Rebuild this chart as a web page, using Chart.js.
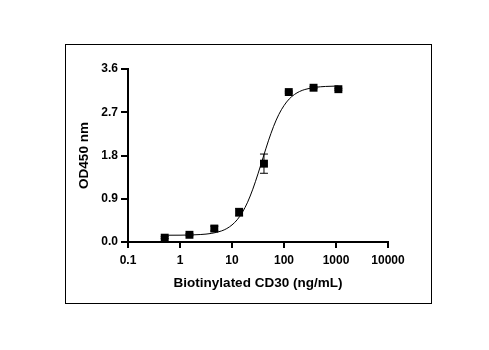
<!DOCTYPE html>
<html>
<head>
<meta charset="utf-8">
<script src="https://cdn.jsdelivr.net/npm/chart.js@4/dist/chart.umd.min.js"></script>
<style>
  html, body { margin: 0; padding: 0; background: #fff; }
  #wrap { position: relative; width: 489px; height: 350px; }
  #frame { position: absolute; left: 65px; top: 44px; width: 367px; height: 260px; box-sizing: border-box; border: 1px solid #000; pointer-events: none; }
  canvas { position: absolute; left: 0; top: 0; }
</style>
</head>
<body>
<div id="wrap">
  <canvas id="c" width="489" height="350"></canvas>
  <div id="frame"></div>
</div>
<script>
// Measured points
const concentrations = [0.508, 1.52, 4.57, 13.7, 41.2, 123.5, 370, 1111];
const odValues       = [0.09, 0.15, 0.28, 0.62, 1.63, 3.12, 3.21, 3.18];
const odErrors       = [0.02, 0.02, 0.05, 0.08, 0.20, 0.02, 0.02, 0.02];

// Fitted curve
const curveX = [0.508, 1, 1.585, 2.512, 3.981, 6.31, 7.943, 10, 12.59, 15.85, 19.95, 25.12, 31.62, 39.81, 50.12, 63.1, 79.43, 100, 125.9, 158.5, 199.5, 251.2, 398.1, 631, 1111];
const curveY = [0.141, 0.142, 0.146, 0.156, 0.178, 0.231, 0.280, 0.355, 0.463, 0.618, 0.828, 1.099, 1.419, 1.765, 2.105, 2.407, 2.653, 2.839, 2.976, 3.069, 3.132, 3.173, 3.218, 3.237, 3.246];

// Tick labels
const xTicks = [0.1, 1, 10, 100, 1000, 10000];
const xTickLabels = ['0.1', '1', '10', '100', '1000', '10000'];
const yTicks = [0, 0.9, 1.8, 2.7, 3.6];

const pointData = concentrations.map((x, i) => ({ x: x, y: odValues[i] }));
const curveData = curveX.map((x, i) => ({ x: x, y: curveY[i] }));

const FONT = "'Liberation Sans', Arial, sans-serif";

const errorBars = {
  id: 'errorBars',
  beforeDatasetsDraw(chart) {
    const ctx = chart.ctx;
    const xs = chart.scales.x, ys = chart.scales.y;
    ctx.save();
    ctx.strokeStyle = '#000';
    ctx.lineWidth = 1;
    concentrations.forEach((c, i) => {
      const px = xs.getPixelForValue(c);
      const top = ys.getPixelForValue(odValues[i] + odErrors[i]);
      const bot = ys.getPixelForValue(odValues[i] - odErrors[i]);
      const cap = 4;
      ctx.beginPath();
      ctx.moveTo(px, top); ctx.lineTo(px, bot);
      ctx.moveTo(px - cap, top); ctx.lineTo(px + cap, top);
      ctx.moveTo(px - cap, bot); ctx.lineTo(px + cap, bot);
      ctx.stroke();
    });
    ctx.restore();
  }
};

new Chart(document.getElementById('c'), {
  type: 'scatter',
  data: {
    datasets: [
      {
        label: 'fit',
        data: curveData,
        showLine: true,
        borderColor: '#000',
        borderWidth: 1,
        pointRadius: 0,
        cubicInterpolationMode: 'monotone',
        fill: false,
        order: 2
      },
      {
        label: 'OD450',
        data: pointData,
        pointStyle: 'rect',
        pointRadius: 5.6,
        backgroundColor: '#000',
        borderColor: '#000',
        borderWidth: 0,
        showLine: false,
        order: 1
      }
    ]
  },
  options: {
    responsive: false,
    animation: false,
    devicePixelRatio: 1,
    layout: { padding: { left: 68, top: 69, right: 101, bottom: 48 } },
    plugins: { legend: { display: false }, tooltip: { enabled: false } },
    scales: {
      x: {
        type: 'logarithmic',
        min: 0.1, max: 10000,
        afterBuildTicks(scale) { scale.ticks = xTicks.map(v => ({ value: v })); },
        afterFit(scale) { scale.height = 60; },
        ticks: {
          color: '#000',
          font: { family: FONT, size: 12, weight: 'bold' },
          padding: 5,
          maxRotation: 0,
          autoSkip: false,
          callback: (v, i) => xTickLabels[i]
        },
        grid: { display: true, drawOnChartArea: false, drawTicks: true, tickLength: 6, color: '#000', lineWidth: 2 },
        border: { display: true, color: '#000', width: 2 },
        title: { display: true, text: 'Biotinylated CD30 (ng/mL)', color: '#000', font: { family: FONT, size: 13.5, weight: 'bold' }, padding: 11 }
      },
      y: {
        type: 'linear',
        min: 0, max: 3.6,
        afterBuildTicks(scale) { scale.ticks = yTicks.map(v => ({ value: v })); },
        afterFit(scale) { scale.width = 60; },
        ticks: {
          color: '#000',
          font: { family: FONT, size: 12, weight: 'bold' },
          padding: 3,
          callback: (v) => Number(v).toFixed(1)
        },
        grid: { display: true, drawOnChartArea: false, drawTicks: true, tickLength: 7, color: '#000', lineWidth: 2 },
        border: { display: true, color: '#000', width: 2 },
        title: { display: true, text: 'OD450 nm', color: '#000', font: { family: FONT, size: 13.5, weight: 'bold' }, padding: 8 }
      }
    }
  },
  plugins: [errorBars]
});
</script>
</body>
</html>
